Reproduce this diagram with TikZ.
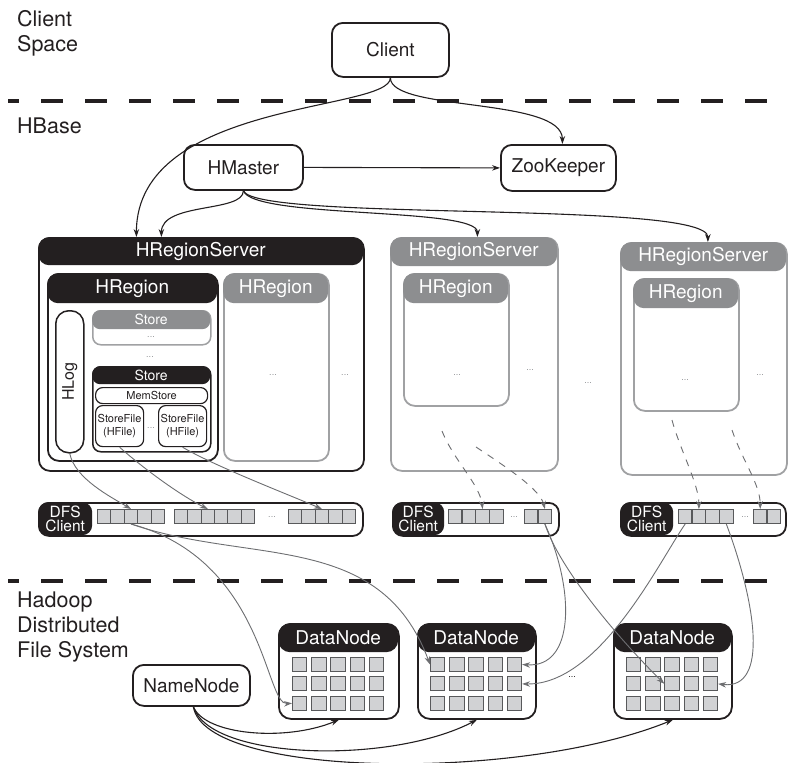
\documentclass[tikz,border=0pt]{standalone}
\usepackage{fontspec}
\setmainfont{TeX Gyre Heros}
\usepackage{tikz}
\usetikzlibrary{arrows.meta}
\definecolor{ink}{HTML}{231F20}
\definecolor{headgray}{HTML}{8D8E90}
\definecolor{framegray}{HTML}{A0A1A3}
\definecolor{blockfill}{HTML}{D1D2D4}
\definecolor{blockline}{HTML}{58595B}
\definecolor{linkgray}{HTML}{6D6E71}
\definecolor{dotgray}{HTML}{939598}
\tikzset{>={Stealth[length=8pt,width=5.5pt]}}
\tikzset{
  sz/.style 2 args={minimum width=#1pt, minimum height=#2pt, anchor=north west, inner sep=0pt},
  box/.style={draw=ink, line width=1.8pt, rounded corners=11pt, fill=white, text=ink},
  grayframe/.style={draw=framegray, line width=1.8pt, rounded corners=11pt, fill=white},
  blackhead/.style={fill=ink, rounded corners=11pt, text=white},
  grayhead/.style={fill=headgray, rounded corners=11pt, text=white},
  blk/.style={draw=blockline, fill=blockfill, line width=1pt, sz={13.4}{14}},
  cell/.style={draw=blockline, fill=blockfill, line width=1pt, sz={14.3}{14}},
  txt/.style={font=\fontsize{19}{22}\selectfont},
  storetxt/.style={font=\fontsize{14}{16}\selectfont},
  smalltxt/.style={font=\fontsize{11}{13}\selectfont},
  dfstxt/.style={font=\fontsize{15.5}{14}\selectfont},
  more/.style={text=dotgray, font=\fontsize{9}{9}\selectfont},
  lbl/.style={anchor=north west, align=left, inner sep=0pt, text=ink, font=\fontsize{21.5}{25}\selectfont},
  ctrl/.style={->, draw=ink, line width=1.1pt},
  feed/.style={->, draw=linkgray, line width=0.9pt},
  lane/.style={draw=ink, line width=4.5pt, dash pattern=on 22pt off 22pt, dash phase=11pt},
}

\begin{document}
\begin{tikzpicture}[x=1pt, y=-1pt]
\useasboundingbox (0,0) rectangle (788,763);

% layer borders
\draw[lane] (8,101) -- (767,101);
\draw[lane] (8,581) -- (767,581);

% layer names
\node[lbl] (space) at (17,10) {Client\\Space};
\node[lbl] (hbase) at (17,118) {HBase};
\node[lbl] (hdfs) at (17,592) {Hadoop\\Distributed\\File System};

% client and masters
\node[box, sz={117}{54}, txt] (client) at (331,22) {Client};
\node[box, sz={119}{45}, txt] (hmaster) at (183,144) {HMaster};
\node[box, sz={115}{46}, txt] (zk) at (500,144) {ZooKeeper};

% first region server, fully opened
\node[box, sz={325}{233}] (rs1) at (38,237) {};
\node[blackhead, sz={325}{28}, txt] (rs1head) at (38,237) {HRegionServer};
\node[box, sz={170}{187}] (rg1) at (47,273) {};
\node[blackhead, sz={170}{30}, txt] (rg1head) at (47,273) {HRegion};
\node[grayframe, sz={105}{187}] (rg2) at (223,273) {};
\node[grayhead, sz={105}{30}, txt] (rg2head) at (223,273) {HRegion};
\node[more] (rg2more) at (273,375) {...};
\node[more] (rs1more) at (345,375) {...};

% log and stores
\node[box, line width=1.5pt, rounded corners=13pt, sz={28}{142}] (hlog) at (55,310) {};
\node[rotate=90, text=ink, font=\fontsize{16}{16}\selectfont] (hlogtag) at (hlog.center) {HLog};
\node[grayframe, line width=1.5pt, rounded corners=8pt, sz={118}{34}] (st1) at (92,310) {};
\node[grayhead, rounded corners=8pt, sz={118}{19}, storetxt] (st1head) at (92,310) {Store};
\node[more] (st1more) at (151,337) {...};
\node[more] (stmore) at (150,357) {...};
\node[box, line width=1.5pt, rounded corners=8pt, sz={118}{85}] (st2) at (92,366) {};
\node[blackhead, rounded corners=8pt, sz={118}{18}, storetxt] (st2head) at (92,366) {Store};
\node[box, line width=1.2pt, rounded corners=7pt, sz={112}{16}, smalltxt] (mem) at (95,387) {MemStore};
\node[box, line width=1.2pt, rounded corners=7pt, sz={48}{41}, smalltxt, align=center] (sf1) at (95,405) {StoreFile\\(HFile)};
\node[box, line width=1.2pt, rounded corners=7pt, sz={48}{41}, smalltxt, align=center] (sf2) at (158,405) {StoreFile\\(HFile)};
\node[more] (sfmore) at (151,428) {...};

% second region server
\node[grayframe, sz={167}{233}] (rs2) at (390,237) {};
\node[grayhead, sz={167}{29}, txt] (rs2head) at (390,237) {HRegionServer};
\node[grayframe, sz={105}{132}] (rg3) at (403,273) {};
\node[grayhead, sz={105}{30}, txt] (rg3head) at (403,273) {HRegion};
\node[more] (rg3more) at (457,375) {...};
\node[more] (rs2more) at (530,370) {...};
\node[more] (rsmore) at (588,383) {...};

% third region server
\node[grayframe, sz={166}{232}] (rs3) at (620,242) {};
\node[grayhead, sz={166}{29}, txt] (rs3head) at (620,242) {HRegionServer};
\node[grayframe, sz={105}{132}] (rg4) at (633,278) {};
\node[grayhead, sz={105}{30}, txt] (rg4head) at (633,278) {HRegion};
\node[more] (rg4more) at (685,380) {...};
\node[more] (rs3more) at (760,375) {...};

% dfs clients
\node[box, rounded corners=10pt, sz={324}{33}] (dfs1) at (38,502) {};
\node[blackhead, rounded corners=10pt, sz={54}{33}, dfstxt, align=center] (dfs1tag) at (38,502) {DFS\\Client};
\foreach \i in {1,...,5} \node[blk] (d1a\i) at ({97+(\i-1)*13.4},509) {};
\foreach \i in {1,...,6} \node[blk] (d1b\i) at ({174+(\i-1)*13.3},509) {};
\node[more] (d1more) at (272,517) {...};
\foreach \i in {1,...,5} \node[blk] (d1c\i) at ({288+(\i-1)*13.4},509) {};

\node[box, rounded corners=10pt, sz={166}{33}] (dfs2) at (392,502) {};
\node[blackhead, rounded corners=10pt, sz={52}{33}, dfstxt, align=center] (dfs2tag) at (392,502) {DFS\\Client};
\foreach \i in {1,...,4} \node[blk] (d2a\i) at ({448+(\i-1)*13.7},509) {};
\node[more] (d2more) at (514,517) {...};
\foreach \i in {1,2} \node[blk] (d2b\i) at ({524+(\i-1)*13.7},509) {};

\node[box, rounded corners=10pt, sz={165}{33}] (dfs3) at (620,502) {};
\node[blackhead, rounded corners=10pt, sz={53}{33}, dfstxt, align=center] (dfs3tag) at (620,502) {DFS\\Client};
\foreach \i in {1,...,4} \node[blk] (d3a\i) at ({678+(\i-1)*13.7},509) {};
\node[more] (d3more) at (745,517) {...};
\foreach \i in {1,2} \node[blk] (d3b\i) at ({753+(\i-1)*13.7},509) {};

% hdfs nodes
\node[box, sz={117}{41}, txt] (namenode) at (132,664) {NameNode};
\node[box, rounded corners=12pt, sz={120}{95}] (dn1) at (278,623) {};
\node[blackhead, rounded corners=12pt, sz={120}{29}, txt] (dn1head) at (278,623) {DataNode};
\foreach \r in {1,2,3} \foreach \c in {1,...,5}
  \node[cell] (dn1-\r-\c) at ({292+(\c-1)*19.2},{657+(\r-1)*19.4}) {};
\node[box, rounded corners=12pt, sz={118}{95}] (dn2) at (417,623) {};
\node[blackhead, rounded corners=12pt, sz={118}{29}, txt] (dn2head) at (417,623) {DataNode};
\foreach \r in {1,2,3} \foreach \c in {1,...,5}
  \node[cell] (dn2-\r-\c) at ({430+(\c-1)*19.2},{657+(\r-1)*19.4}) {};
\node[more, text=ink] (dnmore) at (572,677) {...};
\node[box, rounded corners=12pt, sz={118}{95}] (dn3) at (613,623) {};
\node[blackhead, rounded corners=12pt, sz={118}{29}, txt] (dn3head) at (613,623) {DataNode};
\foreach \r in {1,2,3} \foreach \c in {1,...,5}
  \node[cell] (dn3-\r-\c) at ({626+(\c-1)*19.2},{657+(\r-1)*19.4}) {};

% client and master links
\draw[ctrl] (client.south) .. controls +(0,34) and +(0,-137) .. ([xshift=-65]rs1.north);
\draw[ctrl] (client.south) .. controls +(0,34) and +(0,-47) .. ([xshift=4]zk.north);
\draw[ctrl] (hmaster.east) -- (zk.west);
\draw[ctrl] (hmaster.south) .. controls +(0,22) and +(0,-35) .. ([xshift=-40]rs1.north);
\draw[ctrl] (hmaster.south) .. controls +(10,28) and +(0,-30) .. ([xshift=3]rs2.north);
\draw[ctrl] (hmaster.south) .. controls +(13,31) and +(0,-42) .. ([xshift=4]rs3.north);

% writes into the dfs clients
\draw[feed] (hlog.south) .. controls +(5,25) and +(-20,-12) .. (d1a3.north);
\draw[feed] (sf1.south) .. controls +(20,18) and +(-30,-15) .. (d1b3.north);
\draw[feed] (sf2.south) .. controls +(30,18) and +(-35,-15) .. (d1c3.north);
\coordinate (w1) at (442,431);
\coordinate (w2) at (476,447);
\coordinate (w3) at (672,420);
\coordinate (w4) at (732,430);
\draw[feed, dash pattern=on 7pt off 7pt] (w1) .. controls +(12,30) and +(-3,-25) .. (d2a3.north);
\draw[feed, dash pattern=on 7pt off 7pt] (w2) .. controls +(30,20) and +(-5,-20) .. (d2b2.north);
\draw[feed, dash pattern=on 7pt off 7pt] (w3) .. controls +(8,30) and +(0,-25) .. (d3a2.north);
\draw[feed, dash pattern=on 7pt off 7pt] (w4) .. controls +(10,30) and +(0,-25) .. (d3b1.north);

% blocks out to the datanodes
\draw[feed] (d1a3.south) .. controls (265,560) and (265,705) .. (dn1-3-1.west);
\draw[feed] (d1a3.south) .. controls (250,565) and (380,530) .. (dn2-1-1.west);
\draw[feed] (d2b2.south) .. controls (575,590) and (575,668) .. (dn2-1-5.east);
\draw[feed] (d2b2.south) .. controls (560,570) and (620,640) .. (dn3-2-3.west);
\draw[feed] (d3a1.south) .. controls (660,560) and (600,685) .. (dn2-2-5.east);
\draw[feed] (d3a4.south) .. controls (755,600) and (770,690) .. (dn3-2-5.east);

% namenode links
\draw[ctrl] ([xshift=2]namenode.south) .. controls (205,735) and (285,742) .. (dn1.south);
\draw[ctrl] ([xshift=2]namenode.south) .. controls (210,760) and (390,765) .. (dn2.south);
\draw[ctrl] ([xshift=2]namenode.south) .. controls (205,778) and (520,782) .. (dn3.south);

\end{tikzpicture}
\end{document}
